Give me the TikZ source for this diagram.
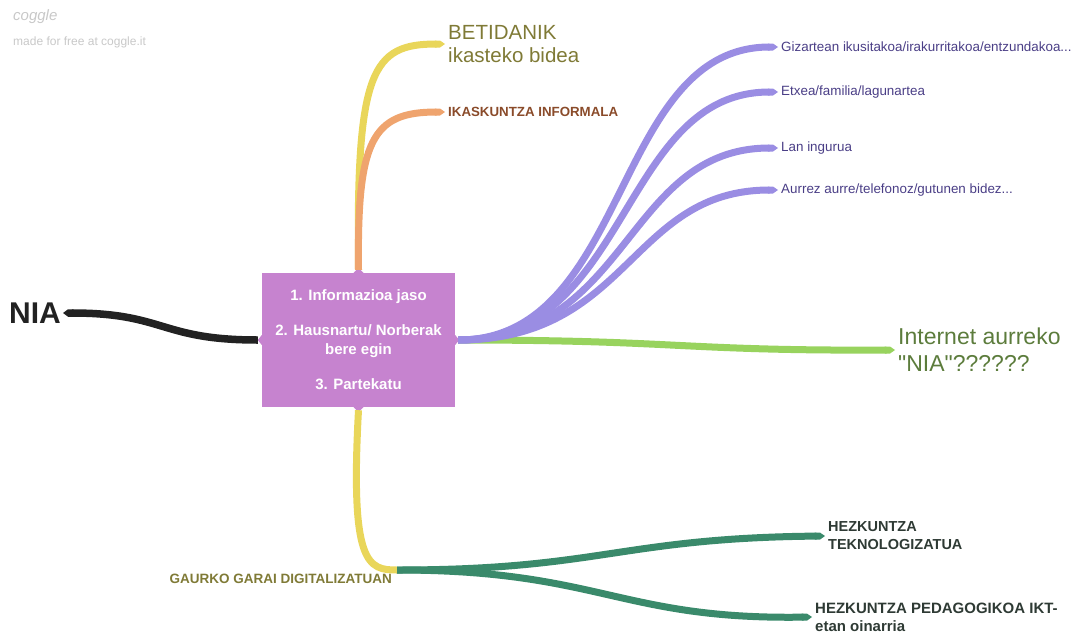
\documentclass[tikz,border=0pt]{standalone}
\usepackage{fontspec}
\setmainfont{Liberation Sans}[Ligatures=TeXOff]
\usetikzlibrary{arrows.meta}
\definecolor{boxc}{HTML}{C683CF}
\definecolor{purl}{HTML}{9A8DE3}
\definecolor{purt}{HTML}{4A3E86}
\definecolor{grl}{HTML}{98D35E}
\definecolor{grt}{HTML}{5C7C3C}
\definecolor{yel}{HTML}{E9D65A}
\definecolor{olv}{HTML}{7F7A36}
\definecolor{ora}{HTML}{EFA46E}
\definecolor{brn}{HTML}{8A4B2A}
\definecolor{blk}{HTML}{222222}
\definecolor{teal}{HTML}{3A8A6B}
\definecolor{tlt}{HTML}{2E3A34}
\definecolor{wm}{HTML}{C8C8C8}
\begin{document}
\begin{tikzpicture}[x=1pt,y=-1pt,
  lbl/.style={anchor=west,inner sep=0pt,align=left},
  branch/.style={draw=#1,line width=7pt,-{Triangle Cap[length=5pt]}}]
\useasboundingbox (0,0) rectangle (1076,635);
% watermark
\node[lbl,text=wm,font=\fontsize{15}{16}\selectfont\itshape] (cg) at (13,17) {coggle};
\node[lbl,text=wm,font=\fontsize{12}{13}\selectfont] (mf) at (13,42) {made for free at coggle.it};
% central box
\node[fill=boxc,minimum width=193pt,minimum height=134pt,inner sep=0pt,text=white,align=center,
  font=\fontsize{15}{19}\selectfont\bfseries] (box) at (358.5,340)
  {1. Informazioa jaso\\[16pt]2. Hausnartu/ Norberak\\bere egin\\[16pt]3. Partekatu};
\fill[boxc] ([xshift=-5pt]box.north) -- ([yshift=5pt]box.north) -- ([xshift=5pt]box.north) -- cycle;
\fill[boxc] ([xshift=-5pt]box.south) -- ([yshift=-5pt]box.south) -- ([xshift=5pt]box.south) -- cycle;
\fill[boxc] ([yshift=-5pt]box.west) -- ([xshift=-4pt]box.west) -- ([yshift=5pt]box.west) -- cycle;
\fill[boxc] ([yshift=-5pt]box.east) -- ([xshift=4pt]box.east) -- ([yshift=5pt]box.east) -- cycle;
% labels
\node[lbl,text=blk,font=\fontsize{30}{32}\selectfont\bfseries] (nia) at (9,313) {NIA};
\node[lbl,text=olv,font=\fontsize{20.5}{23}\selectfont] (bet) at (448,44) {BETIDANIK\\ikasteko bidea};
\node[lbl,text=brn,font=\fontsize{13.3}{14}\selectfont\bfseries] (ika) at (448,112) {IKASKUNTZA INFORMALA};
\node[lbl,text=purt,font=\fontsize{13.4}{14}\selectfont] (giz) at (781,47) {Gizartean ikusitakoa/irakurritakoa/entzundakoa...};
\node[lbl,text=purt,font=\fontsize{13.4}{14}\selectfont] (etx) at (781,92) {Etxea/familia/lagunartea};
\node[lbl,text=purt,font=\fontsize{13.4}{14}\selectfont] (lan) at (781,148) {Lan ingurua};
\node[lbl,text=purt,font=\fontsize{13.4}{14}\selectfont] (aur) at (781,190) {Aurrez aurre/telefonoz/gutunen bidez...};
\node[lbl,text=grt,font=\fontsize{23}{27}\selectfont] (int) at (898,350) {Internet aurreko\\"NIA"??????};
\node[lbl,anchor=north east,text=olv,font=\fontsize{13.5}{14}\selectfont\bfseries] (gau) at (392,574) {GAURKO GARAI DIGITALIZATUAN};
\node[lbl,text=tlt,font=\fontsize{14.5}{18}\selectfont\bfseries] (hek) at (828,536) {HEZKUNTZA\\TEKNOLOGIZATUA};
\node[lbl,text=tlt,font=\fontsize{15}{18}\selectfont\bfseries] (hep) at (815,617) {HEZKUNTZA PEDAGOGIKOA IKT-\\etan oinarria};
\coordinate (gj) at (397,570);
% connectors
\draw[branch=blk,line width=7.5pt] ([xshift=-4pt]box.west) .. controls (160,340) and (165,313) .. ([xshift=2pt]nia.east);
\draw[branch=yel] ([yshift=3pt]box.north) .. controls (356,70) and (372,44) .. ([xshift=-3pt]bet.west);
\draw[branch=ora] ([yshift=3pt]box.north) .. controls (357,140) and (372,112) .. ([xshift=-3pt]ika.west);
\draw[branch=grl] ([xshift=3pt]box.east) .. controls (680,340) and (680,351) .. ([xshift=-3pt]int.west);
\draw[branch=purl] ([xshift=3pt]box.east) .. controls (630,340) and (612,47) .. ([xshift=-3pt]giz.west);
\draw[branch=purl] ([xshift=3pt]box.east) .. controls (630,340) and (620,92) .. ([xshift=-3pt]etx.west);
\draw[branch=purl] ([xshift=3pt]box.east) .. controls (630,340) and (625,148) .. ([xshift=-3pt]lan.west);
\draw[branch=purl] ([xshift=3pt]box.east) .. controls (630,340) and (630,190) .. ([xshift=-3pt]aur.west);
\draw[draw=yel,line width=7pt] ([yshift=-3pt]box.south) .. controls (350,565) and (368,570) .. (gj);
\draw[branch=teal] (gj) .. controls (600,570) and (620,538) .. ([xshift=-3pt]hek.west);
\draw[branch=teal] (gj) .. controls (600,570) and (620,620) .. ([xshift=-3pt]hep.west);
\end{tikzpicture}
\end{document}
